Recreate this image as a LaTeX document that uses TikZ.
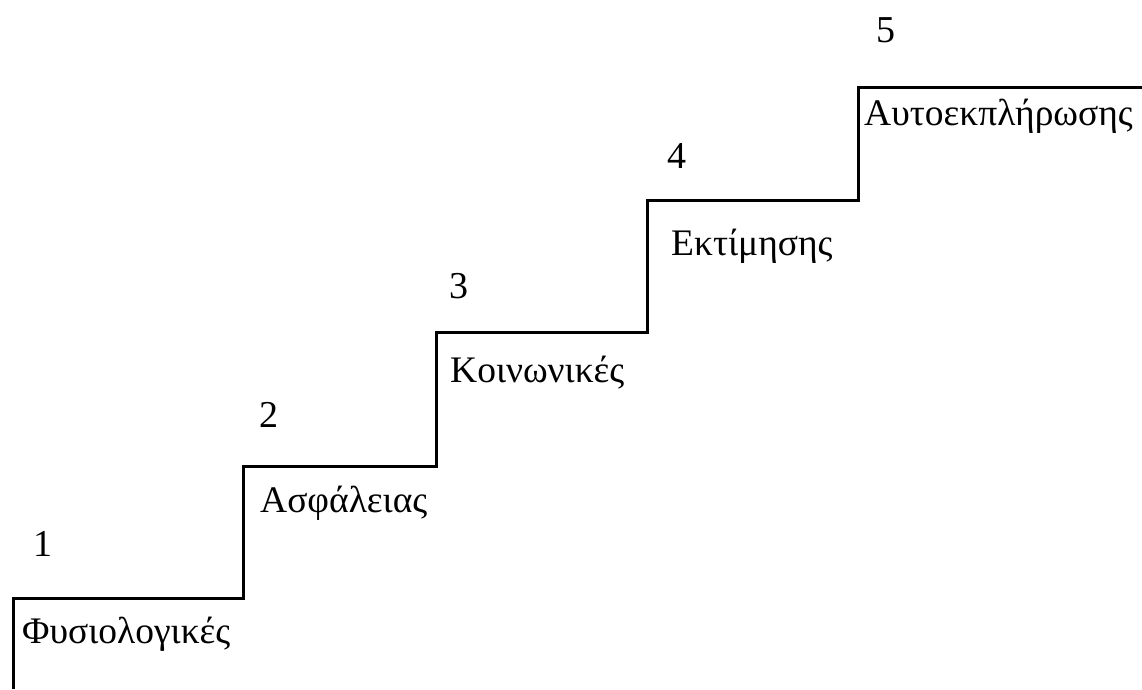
\documentclass[tikz,border=0pt]{standalone}
\usepackage{fontspec}
\setmainfont{Liberation Serif}
\begin{document}
\begin{tikzpicture}[x=1pt,y=-1pt,
  stair/.style={line width=3pt,line join=miter},
  lvl/.style={anchor=base west,inner sep=0pt,font=\fontsize{37.5}{42}\selectfont},
  num/.style={anchor=base west,inner sep=0pt,font=\fontsize{38}{42}\selectfont}]
\useasboundingbox (0,0) rectangle (1142,689);
\draw[stair] (13,689) -- (13,598) -- (243,598) -- (243,466) -- (436,466) -- (436,332)
  -- (647,332) -- (647,200) -- (858,200) -- (858,87) -- (1142,87);
\node[lvl] (l1) at (22,643) {Φυσιολογικές};
\node[lvl] (l2) at (260,512) {Ασφάλειας};
\node[lvl] (l3) at (450,382) {Κοινωνικές};
\node[lvl] (l4) at (671,255) {Εκτίμησης};
\node[lvl] (l5) at (864,125) {Αυτοεκπλήρωσης};
\node[num] (n1) at (33,556) {1};
\node[num] (n2) at (259,427) {2};
\node[num] (n3) at (449,298) {3};
\node[num] (n4) at (667,168) {4};
\node[num] (n5) at (876,42) {5};
\end{tikzpicture}
\end{document}
